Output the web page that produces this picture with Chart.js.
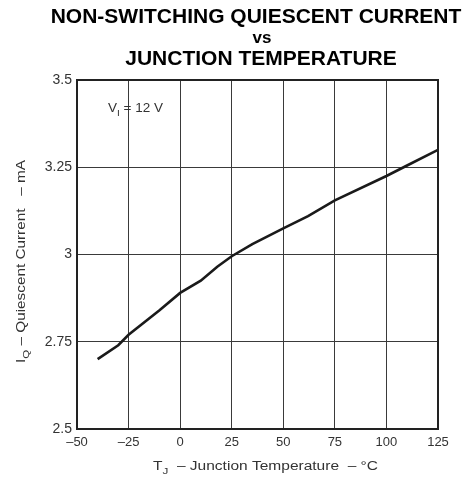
<!DOCTYPE html>
<html>
<head>
<meta charset="utf-8">
<script src="https://cdn.jsdelivr.net/npm/chart.js@4/dist/chart.umd.min.js"></script>
<style>
  html, body { margin: 0; padding: 0; background: #fff; }
  canvas { display: block; }
</style>
</head>
<body>
<canvas id="c" width="474" height="478"></canvas>
<script>
// ---- data ----
const temperatures = [-40, -30, -25, -10, 0, 10, 18, 25, 35, 50, 62, 75, 100, 110, 125];
const quiescentCurrent = [2.70, 2.74, 2.77, 2.84, 2.89, 2.925, 2.965, 2.995, 3.03, 3.075, 3.11, 3.155, 3.225, 3.255, 3.30];
const xTickValues = [-50, -25, 0, 25, 50, 75, 100, 125];
const yTickValues = [2.5, 2.75, 3, 3.25, 3.5];
const titleLines = ['NON-SWITCHING QUIESCENT CURRENT', 'vs', 'JUNCTION TEMPERATURE'];
const yTitleRuns = [['I', 0], ['Q', 1], [' – Quiescent Current   – mA', 0]];
const xTitleRuns = [['T', 0], ['J', 1], ['  – Junction Temperature  – °C', 0]];
const noteRuns = [['V', 0], ['I', 1], [' = 12 V', 0]];

const FONT = '"Liberation Sans", Arial, sans-serif';

function runsWidth(ctx, runs, size) {
  let w = 0;
  for (const [t, sub] of runs) {
    ctx.font = (sub ? size * 0.75 : size) + 'px ' + FONT;
    w += ctx.measureText(t).width;
  }
  return w;
}
function drawRuns(ctx, runs, size, x, y, targetW) {
  const w = runsWidth(ctx, runs, size);
  const sx = targetW ? targetW / w : 1;
  ctx.save();
  ctx.translate(x, y);
  ctx.scale(sx, 1);
  let cx = 0;
  for (const [t, sub] of runs) {
    ctx.font = (sub ? size * 0.75 : size) + 'px ' + FONT;
    ctx.fillText(t, cx, sub ? size * 0.3 : 0);
    cx += ctx.measureText(t).width;
  }
  ctx.restore();
}

const decor = {
  id: 'decor',
  afterDraw(chart) {
    const ctx = chart.ctx;
    const a = chart.chartArea;
    ctx.save();
    // frame
    ctx.strokeStyle = '#222';
    ctx.lineWidth = 2;
    ctx.strokeRect(a.left, a.top, a.right - a.left, a.bottom - a.top);
    // title
    ctx.fillStyle = '#000';
    ctx.textAlign = 'center';
    ctx.textBaseline = 'alphabetic';
    ctx.font = 'bold 21px ' + FONT;
    ctx.fillText(titleLines[0], 256, 23);
    ctx.font = 'bold 17px ' + FONT;
    ctx.fillText(titleLines[1], 262, 43);
    ctx.font = 'bold 21px ' + FONT;
    ctx.fillText(titleLines[2], 261, 65);
    // axis titles and note
    ctx.textAlign = 'left';
    ctx.fillStyle = '#333';
    drawRuns(ctx, xTitleRuns, 12, 153, 470, 225);
    ctx.save();
    ctx.translate(25, 363);
    ctx.rotate(-Math.PI / 2);
    drawRuns(ctx, yTitleRuns, 13, 0, 0, 203);
    ctx.restore();
    drawRuns(ctx, noteRuns, 12, 108, 112, 55);
    ctx.restore();
  }
};

new Chart(document.getElementById('c'), {
  type: 'line',
  data: {
    datasets: [{
      data: temperatures.map((t, i) => ({ x: t, y: quiescentCurrent[i] })),
      borderColor: '#1a1a1a',
      borderWidth: 2.6,
      pointRadius: 0,
      tension: 0,
      fill: false
    }]
  },
  options: {
    responsive: false,
    animation: false,
    devicePixelRatio: 1,
    layout: { padding: { top: 80, right: 36, bottom: 0, left: 0 } },
    plugins: { legend: { display: false }, title: { display: false }, tooltip: { enabled: false } },
    scales: {
      x: {
        type: 'linear',
        min: -50, max: 125,
        afterBuildTicks: s => { s.ticks = xTickValues.map(v => ({ value: v })); },
        afterFit: s => { s.height = 49; },
        grid: { color: '#3a3a3a', lineWidth: 1, drawTicks: false },
        border: { display: false },
        ticks: {
          padding: 6,
          color: '#333',
          font: { family: FONT, size: 13 },
          callback: v => v < 0 ? '–' + Math.abs(v) : String(v)
        }
      },
      y: {
        type: 'linear',
        min: 2.5, max: 3.5,
        afterBuildTicks: s => { s.ticks = yTickValues.map(v => ({ value: v })); },
        afterFit: s => { s.width = 77; },
        grid: { color: '#3a3a3a', lineWidth: 1, drawTicks: false },
        border: { display: false },
        ticks: {
          padding: 5,
          color: '#333',
          font: { family: FONT, size: 14 },
          callback: v => String(v)
        }
      }
    }
  },
  plugins: [decor]
});
</script>
</body>
</html>
